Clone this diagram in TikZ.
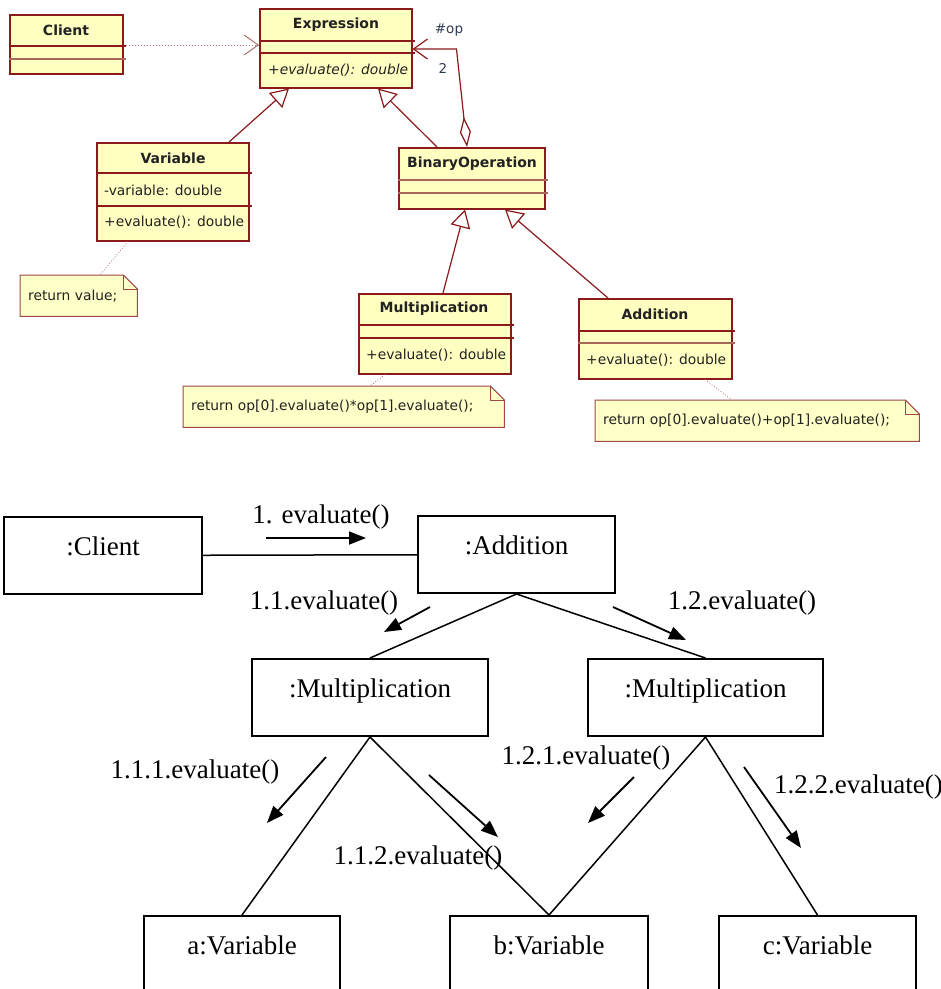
\documentclass[tikz,border=0pt]{standalone}
\usepackage{fontspec}
\setmainfont{Liberation Serif}
\newfontfamily\umlfont{DejaVu Sans}
\usetikzlibrary{arrows.meta,calc,backgrounds}
\definecolor{umlred}{HTML}{8B1A1A}
\definecolor{umlyel}{HTML}{FFFFC2}
\definecolor{umllight}{HTML}{A86858}
\definecolor{notebd}{HTML}{A04848}
\definecolor{notefill}{HTML}{FFFFC8}
\definecolor{umltext}{HTML}{222222}
\definecolor{optext}{HTML}{2E3B55}
\definecolor{dotcol}{HTML}{B07070}
\tikzset{
  cls/.style={draw=umlred, fill=umlyel, line width=1.5pt, anchor=north west, inner sep=0pt},
  divA/.style={draw=umlred, line width=1.5pt},
  divB/.style={draw=umllight, line width=1.1pt},
  ctitle/.style={font=\umlfont\bfseries\fontsize{14}{16}\selectfont, text=umltext, inner sep=0pt},
  member/.style={font=\umlfont\fontsize{13.8}{16}\selectfont, text=umltext, anchor=west, inner sep=0pt},
  notebox/.style={anchor=north west, inner sep=0pt, minimum height=41pt, align=left,
    font=\umlfont\fontsize{13.8}{16}\selectfont, text=umltext},
  noteshape/.style={draw=notebd, fill=notefill, line width=1pt},
  gen/.style={draw=umlred, line width=1.2pt, -{Triangle[fill=white, length=18pt, width=20pt]}},
  dep/.style={draw=dotcol, line width=1pt, dotted, -{Straight Barb[length=14pt, width=20pt]}},
  agg/.style={draw=umlred, line width=1.2pt,
    {Diamond[fill=white, length=30pt, width=11pt]}-{Straight Barb[length=14pt, width=20pt]}},
  notelink/.style={draw=dotcol, line width=0.8pt, dotted},
  obj/.style={draw, line width=2pt, anchor=north west, inner sep=0pt, minimum height=77pt,
    text height=14pt, text depth=14pt, font=\fontsize{27}{30}\selectfont},
  link/.style={line width=1.5pt},
  msg/.style={line width=1.8pt, -{Triangle[length=17pt, width=13pt]}},
  msglbl/.style={font=\fontsize{27}{30}\selectfont, inner sep=0pt}
}
\begin{document}
\begin{tikzpicture}[x=1pt, y=-1pt]
\clip (0,0) rectangle (941,989);

% ---------------- UML class diagram ----------------
\node[cls, minimum width=113pt, minimum height=59pt] (client) at (9,14) {};
\draw[divA] ($(client.north west)+(0,32)$) -- ($(client.north east)+(2,32)$);
\draw[divB] ($(client.north west)+(0,45)$) -- ($(client.north east)+(2,45)$);
\node[ctitle] (clientT) at (66,30) {Client};

\node[cls, minimum width=152pt, minimum height=79pt] (expr) at (259,8) {};
\draw[divA] ($(expr.north west)+(0,33)$) -- ($(expr.north east)+(2,33)$);
\draw[divA] ($(expr.north west)+(0,45)$) -- ($(expr.north east)+(2,45)$);
\node[ctitle] (exprT) at (336,25) {Expression};
\node[member] (exprM) at (268,70) {\itshape +evaluate(): double};

\node[cls, minimum width=152pt, minimum height=98pt] (var) at (96,142) {};
\draw[divA] ($(var.north west)+(0,31)$) -- ($(var.north east)+(2,31)$);
\draw[divA] ($(var.north west)+(0,64)$) -- ($(var.north east)+(2,64)$);
\node[ctitle] (varT) at (173,158) {Variable};
\node[member] (varA) at (104,190) {-variable: double};
\node[member] (varM) at (104,222) {+evaluate(): double};

\node[cls, minimum width=146pt, minimum height=61pt] (binop) at (398,147) {};
\draw[divB] ($(binop.north west)+(0,33)$) -- ($(binop.north east)+(2,33)$);
\draw[divB] ($(binop.north west)+(0,46)$) -- ($(binop.north east)+(2,46)$);
\node[ctitle] (binopT) at (472,164) {BinaryOperation};

\node[cls, minimum width=152pt, minimum height=80pt] (mult) at (358,293) {};
\draw[divA] ($(mult.north west)+(0,32)$) -- ($(mult.north east)+(2,32)$);
\draw[divA] ($(mult.north west)+(0,45)$) -- ($(mult.north east)+(2,45)$);
\node[ctitle] (multT) at (434,309) {Multiplication};
\node[member] (multM) at (366,355) {+evaluate(): double};

\node[cls, minimum width=153pt, minimum height=80pt] (add) at (578,298) {};
\draw[divA] ($(add.north west)+(0,33)$) -- ($(add.north east)+(2,33)$);
\draw[divB] ($(add.north west)+(0,45)$) -- ($(add.north east)+(2,45)$);
\node[ctitle] (addT) at (655,314) {Addition};
\node[member] (addM) at (586,360) {+evaluate(): double};

% notes
\node[notebox, minimum width=117pt, text width=101pt] (nval) at (20,275) {return value;};
\node[notebox, minimum width=321pt, text width=305pt] (nmul) at (183,386) {return op[0].evaluate()*op[1].evaluate();};
\node[notebox, minimum width=324pt, text width=308pt] (nadd) at (595,400) {return op[0].evaluate()+op[1].evaluate();};
\begin{scope}[on background layer]
\fill[white] (0,0) rectangle (941,989);
\foreach \n in {nval,nmul,nadd}{
  \draw[noteshape] (\n.north west) -- ($(\n.north east)+(-14,0)$) -- ($(\n.north east)+(0,14)$)
    -- (\n.south east) -- (\n.south west) -- cycle;
  \draw[draw=notebd, line width=1pt] ($(\n.north east)+(-14,0)$) -- ($(\n.north east)+(-14,14)$)
    -- ($(\n.north east)+(0,14)$);
}
\end{scope}

% connectors
\draw[dep] ($(client.north east)+(2,31)$) -- ($(expr.north west)+(0,37)$);
\draw[gen] ($(var.north west)+(133,0)$) -- ($(expr.south west)+(30,0)$);
\draw[gen] ($(binop.north west)+(39,0)$) -- ($(expr.south west)+(119,0)$);
\draw[agg] ($(binop.north west)+(69,0)$) -- ($(expr.north east)+(44,41)$) -- ($(expr.north east)+(0,41)$);
\draw[gen] ($(mult.north west)+(85,0)$) -- ($(binop.south west)+(67,0)$);
\draw[gen] ($(add.north west)+(30,0)$) -- ($(binop.south west)+(107,0)$);
\draw[notelink] ($(var.south west)+(32,0)$) -- ($(nval.north west)+(80,0)$);
\draw[notelink] ($(mult.south west)+(27,0)$) -- ($(nmul.north west)+(187,0)$);
\draw[notelink] ($(add.south west)+(127,0)$) -- ($(nadd.north west)+(137,0)$);

\node[font=\umlfont\fontsize{13.5}{16}\selectfont, text=optext, inner sep=0pt] (opL) at (449,30) {\#op};
\node[font=\umlfont\fontsize{13.5}{16}\selectfont, text=optext, inner sep=0pt] (twoL) at (443,68) {2};

% ---------------- collaboration diagram ----------------
\node[obj, minimum width=198pt] (oclient) at (3,516) {:Client};
\node[obj, minimum width=197pt] (oadd) at (417,515) {:Addition};
\node[obj, minimum width=236pt] (omul1) at (251,658) {:Multiplication};
\node[obj, minimum width=235pt] (omul2) at (587,658) {:Multiplication};
\node[obj, minimum width=196pt] (va) at (143,915) {a:Variable};
\node[obj, minimum width=198pt] (vb) at (449,915) {b:Variable};
\node[obj, minimum width=197pt] (vc) at (718,915) {c:Variable};

\draw[link] (oclient) -- (oadd);
\draw[link] (oadd.south) -- (omul1.north);
\draw[link] (oadd.south) -- (omul2.north);
\draw[link] (omul1.south) -- (va.north);
\draw[link] (omul1.south) -- (vb.north);
\draw[link] (omul2.south) -- (vb.north);
\draw[link] (omul2.south) -- (vc.north);

% messages
\coordinate (m1a) at (266,538);  \coordinate (m1b) at (366,538);
\coordinate (m11a) at (430,607); \coordinate (m11b) at (384,632);
\coordinate (m12a) at (613,607); \coordinate (m12b) at (686,640);
\coordinate (m111a) at (326,757); \coordinate (m111b) at (267,823);
\coordinate (m112a) at (429,775); \coordinate (m112b) at (498,837);
\coordinate (m121a) at (634,777); \coordinate (m121b) at (588,823);
\coordinate (m122a) at (744,767); \coordinate (m122b) at (801,848);
\draw[msg] (m1a) -- (m1b);
\draw[msg] (m11a) -- (m11b);
\draw[msg] (m12a) -- (m12b);
\draw[msg] (m111a) -- (m111b);
\draw[msg] (m112a) -- (m112b);
\draw[msg] (m121a) -- (m121b);
\draw[msg] (m122a) -- (m122b);

\node[msglbl] (l1) at (321,517) {1. evaluate()};
\node[msglbl] (l11) at (324,603) {1.1.evaluate()};
\node[msglbl] (l12) at (742,603) {1.2.evaluate()};
\node[msglbl] (l111) at (195,772) {1.1.1.evaluate()};
\node[msglbl] (l112) at (418,858) {1.1.2.evaluate()};
\node[msglbl] (l121) at (586,758) {1.2.1.evaluate()};
\node[msglbl, anchor=west] (l122) at (774,787) {1.2.2.evaluate()};
\end{tikzpicture}
\end{document}
